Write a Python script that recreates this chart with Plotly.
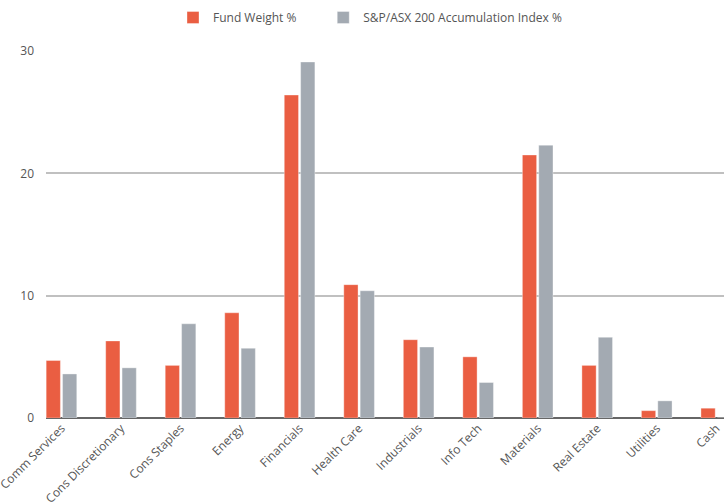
import plotly.graph_objects as go

categories = ["Comm Services", "Cons Discretionary", "Cons Staples", "Energy", "Financials",
              "Health Care", "Industrials", "Info Tech", "Materials", "Real Estate", "Utilities", "Cash"]
fund_weight = [4.7, 6.3, 4.3, 8.6, 26.4, 10.9, 6.4, 5.0, 21.5, 4.3, 0.6, 0.8]
index_weight = [3.6, 4.1, 7.7, 5.7, 29.1, 10.4, 5.8, 2.9, 22.3, 6.6, 1.4, 0.0]
y_ticks = [0, 10, 20, 30]
series_names = ["Fund Weight %", "S&P/ASX 200 Accumulation Index %"]

ORANGE = "#EA5E42"
GREY = "#A3AAB2"
FONT = "Open Sans"
PAD = "\u00a0" * 7

fig = go.Figure()
fig.add_trace(go.Bar(x=categories, y=fund_weight, name=series_names[0] + PAD,
                     marker=dict(color=ORANGE, line=dict(color="rgba(255,255,255,0.35)", width=1))))
fig.add_trace(go.Bar(x=categories, y=index_weight, name=series_names[1],
                     marker=dict(color=GREY, line=dict(color="rgba(255,255,255,0.35)", width=1))))

fig.update_layout(
    width=724, height=502,
    margin=dict(l=46, r=0, t=51, b=84, autoexpand=False),
    paper_bgcolor="white", plot_bgcolor="white",
    font=dict(family=FONT, size=12, color="#555555"),
    barmode="group", bargap=0.45, bargroupgap=0.13,
    showlegend=True,
    legend=dict(orientation="h", xref="container", yref="container",
                x=173 / 724, xanchor="left", y=1 - 3 / 502, yanchor="top",
                font=dict(family=FONT, size=12, color="#555555"),
                itemwidth=30, traceorder="normal"),
    xaxis=dict(type="category", range=[-0.26, 11.13], tickangle=-45, automargin=False,
               showgrid=False, showline=False, ticks="",
               tickfont=dict(family=FONT, size=12, color="#555555")),
    yaxis=dict(range=[0, 30], tickvals=y_ticks, showgrid=True, gridcolor="#C0C0C0",
               gridwidth=2, zeroline=True, zerolinecolor="#666666", zerolinewidth=2,
               showline=False, ticks="", ticklabelstandoff=11, automargin=False,
               tickfont=dict(family=FONT, size=12, color="#555555")),
)

fig.write_html("out.html")
